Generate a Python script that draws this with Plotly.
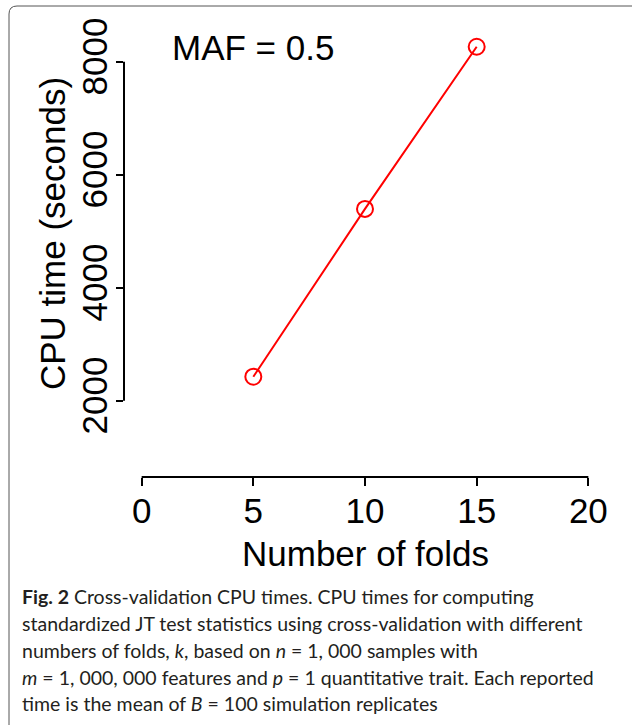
import plotly.graph_objects as go

# ---- data ----
folds = [5, 10, 15]
cpu_seconds = [2425, 5395, 8265]
x_ticks = [0, 5, 10, 15, 20]
y_ticks = [2000, 4000, 6000, 8000]
panel_label = "MAF = 0.5"
x_title = "Number of folds"
y_title = "CPU time (seconds)"
caption_lines = [
    "<b>Fig. 2</b> Cross-validation CPU times. CPU times for computing",
    "standardized JT test statistics using cross-validation with different",
    "numbers of folds, <i>k</i>, based on <i>n</i> = 1, 000 samples with",
    "<i>m</i> = 1, 000, 000 features and <i>p</i> = 1 quantitative trait. Each reported",
    "time is the mean of <i>B</i> = 100 simulation replicates",
]

W, H = 632, 725
ML, MR, MT, MB = 124, 26, 45, 248
PW, PH = W - ML - MR, H - MT - MB

def px2paper_x(px):
    return (px - ML) / PW

def px2paper_y(py):
    return (H - MB - py) / PH

AXFONT = dict(family="Liberation Sans, Arial, sans-serif", size=35, color="black")

fig = go.Figure()
fig.add_trace(go.Scatter(
    x=folds, y=cpu_seconds, mode="lines+markers",
    line=dict(color="#FF0000", width=2),
    marker=dict(symbol="circle-open", size=16, color="#FF0000", line=dict(width=2, color="#FF0000")),
    cliponaxis=False, showlegend=False,
))

fig.update_layout(
    width=W, height=H,
    margin=dict(l=ML, r=MR, t=MT, b=MB, pad=0),
    paper_bgcolor="white", plot_bgcolor="white",
    font=AXFONT,
    xaxis=dict(
        range=[-0.79, 20.79], tickvals=x_ticks, ticktext=[str(v) for v in x_ticks],
        showgrid=False, zeroline=False, showline=False,
        ticks="outside", ticklen=8, tickwidth=2, tickcolor="black",
        tickfont=AXFONT, ticklabelstandoff=-5,
    ),
    yaxis=dict(
        range=[650, 8296], tickvals=y_ticks, ticktext=[str(v) for v in y_ticks],
        showgrid=False, zeroline=False, showline=False,
        ticks="outside", ticklen=7, tickwidth=2, tickcolor="black",
        tickangle=-90, tickfont=AXFONT, ticklabelstandoff=-5,
    ),
)

# R-style axis lines spanning only the tick range
fig.add_shape(type="line", xref="x", yref="paper", x0=x_ticks[0], x1=x_ticks[-1], y0=0, y1=0,
              line=dict(color="black", width=2))
fig.add_shape(type="line", xref="paper", yref="y", x0=0, x1=0, y0=y_ticks[0], y1=y_ticks[-1],
              line=dict(color="black", width=2))

# axis titles
fig.add_annotation(x=px2paper_x(365), y=px2paper_y(553), xref="paper", yref="paper", text=x_title,
                   showarrow=False, font=AXFONT, xanchor="center", yanchor="middle")
fig.add_annotation(x=px2paper_x(52), y=px2paper_y(234), xref="paper", yref="paper", text=y_title,
                   showarrow=False, font=AXFONT, xanchor="center", yanchor="middle", textangle=-90)

# panel label
fig.add_annotation(x=folds[0], y=8260, xref="x", yref="y", text=panel_label, showarrow=False,
                   font=AXFONT, xanchor="center", yanchor="middle")

# frame with rounded top-left corner
x0, y0, x1, y1, r = px2paper_x(9), px2paper_y(6), px2paper_x(650), px2paper_y(740), 8
fig.add_shape(type="path", xref="paper", yref="paper",
              path=(f"M {x0} {y1} L {x0} {px2paper_y(6 + r)} "
                    f"Q {x0} {y0} {px2paper_x(9 + r)} {y0} L {x1} {y0}"),
              line=dict(color="#555555", width=1))

# caption
cap_font = dict(family="Lato, Open Sans, sans-serif", size=19.5, color="#231f20")
for i, line in enumerate(caption_lines):
    fig.add_annotation(x=px2paper_x(20), y=px2paper_y(596 + 27 * i), xref="paper", yref="paper",
                       text=line, showarrow=False, xanchor="left", yanchor="middle",
                       font=cap_font, align="left")

fig.write_html("out.html", config={"displayModeBar": False},
               post_script="document.body.style.margin='0';")
